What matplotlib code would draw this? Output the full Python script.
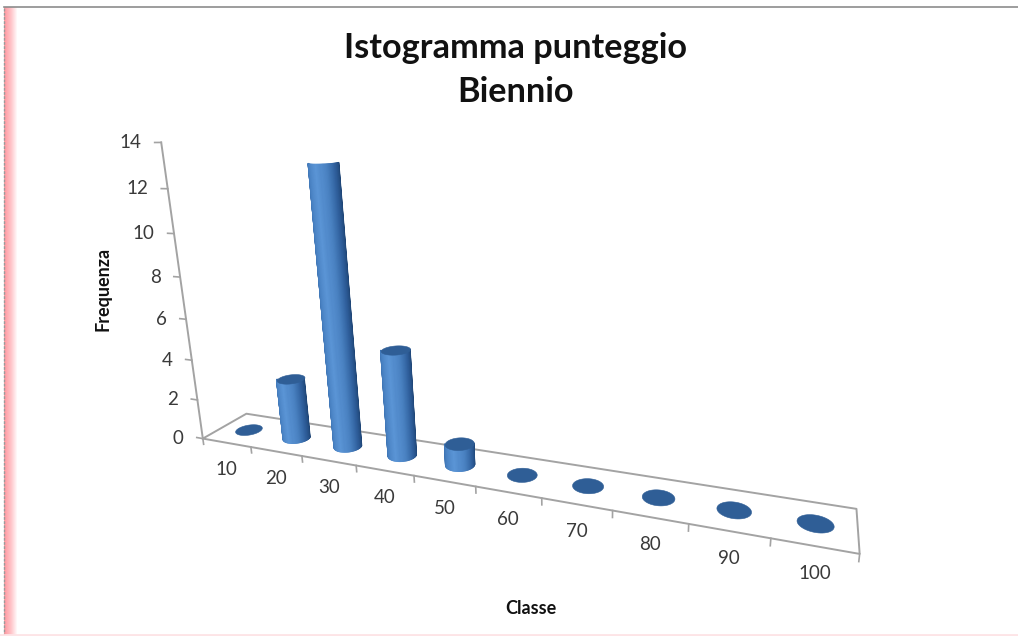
import numpy as np
import matplotlib
matplotlib.use('Agg')
import matplotlib.pyplot as plt
from matplotlib.colors import LinearSegmentedColormap
from mpl_toolkits.mplot3d import proj3d
from mpl_toolkits.mplot3d.art3d import Poly3DCollection

plt.rcParams['font.family'] = ['Lato', 'DejaVu Sans']

classes = ['10', '20', '30', '40', '50', '60', '70', '80', '90', '100']
frequency = [0, 3, 13, 5, 1, 0, 0, 0, 0, 0]
z_ticks = [0, 2, 4, 6, 8, 10, 12, 14]

W, H = 1018, 636
grey = '#a3a3a3'
text_col = '#3a3a3a'
top_col = '#2f5e96'
side_cmap = LinearSegmentedColormap.from_list('side', ['#3a6fae', '#4a83c4', '#5b95d6', '#4a82c2', '#2f5f9c', '#1e4474'])

fig = plt.figure(figsize=(W/100, H/100), dpi=100)

# pink strip down the left edge of the screenshot
strip = fig.add_axes([4/W, 0, 14/W, 1 - 7/H])
strip.imshow([np.linspace(0, 1, 14)], aspect='auto',
             cmap=LinearSegmentedColormap.from_list('pink', ['#ff9aa2', '#ffc4c8', '#ffffff']))
strip.axis('off')
fig.add_artist(plt.Line2D([4/W, 1], [1 - 7/H, 1 - 7/H], color='#8c8c8c', lw=1.2))
fig.add_artist(plt.Line2D([4/W, 4/W], [0, 1 - 7/H], color='#9a9a9a', lw=1, ls=(0, (2, 1))))
fig.add_artist(plt.Line2D([0, 1], [1.5/H, 1.5/H], color='#fde4e6', lw=2))

# camera fitted to the picture
S, cx, cy = 4142.26, 485.38, 313.29
side = 0.185*S
ax = fig.add_axes([(cx - 0.095*S)/W, (H - cy - 0.095*S)/H, side/W, side/H],
                  projection='3d', computed_zorder=False)
ax.patch.set_alpha(0)
ax.set_xlim(0, 10)
ax.set_ylim(0, 1)
ax.set_zlim(0, 14)
ax.view_init(elev=15.697, azim=-66.772, roll=1.859)
ax.set_proj_type('persp', focal_length=0.18853)
ax.set_box_aspect((2.0522, 0.2287, 1))
ax.set_axis_off()

# floor and axis lines, the right end falls just past the axes box
n = len(classes)
ax.plot([0, 0, n, n, 0], [0, 1, 1, 0, 0], [0, 0, 0, 0, 0], color=grey, lw=1.4, zorder=2, clip_on=False)
ax.plot([0, 0], [0, 0], [0, 14], color=grey, lw=1.4, zorder=2, clip_on=False)
for i in range(n + 1):
    ax.plot([i, i], [0, 0], [0, -0.3], color=grey, lw=1.2, zorder=2, clip_on=False)
for z in z_ticks:
    ax.plot([0, -0.13], [0, 0], [z, z], color=grey, lw=1.2, zorder=2, clip_on=False)

# cylinders, only the half facing the camera is drawn
rx, ry = 0.22, 0.2
front = np.radians(np.linspace(-156.8, 23.2, 40))
shade = side_cmap(np.linspace(0, 1, len(front) - 1))
ring = np.radians(np.linspace(0, 360, 60))
for i, v in enumerate(frequency):
    xc = i + 0.5
    xs = xc + rx*np.cos(front)
    ys = 0.5 + ry*np.sin(front)
    if v > 0:
        quads = [[(xs[k], ys[k], 0), (xs[k+1], ys[k+1], 0), (xs[k+1], ys[k+1], v), (xs[k], ys[k], v)]
                 for k in range(len(front) - 1)]
        ax.add_collection3d(Poly3DCollection(quads, facecolors=shade, edgecolors=shade, linewidths=1, zorder=3))
    # the tallest one has its top cut off in the original
    if v < max(frequency):
        disk = list(zip(xc + rx*np.cos(ring), 0.5 + ry*np.sin(ring), np.full(len(ring), float(v))))
        ax.add_collection3d(Poly3DCollection([disk], facecolors=top_col, edgecolors=top_col, linewidths=0.4, zorder=4))

# labels placed from the projected axis positions
M = ax.get_proj()
for i, lab in enumerate(classes):
    px, py, _ = proj3d.proj_transform(i + 0.5, 0, 0, M)
    ax.annotate(lab, (px, py), xytext=(0, -19.5), textcoords='offset points', ha='center', va='center',
                fontsize=13.5, color=text_col, annotation_clip=False)
for z in z_ticks:
    px, py, _ = proj3d.proj_transform(0, 0, z, M)
    ax.annotate(str(z), (px, py), xytext=(-14, 0), textcoords='offset points', ha='right', va='center',
                fontsize=13.5, color=text_col, annotation_clip=False)

fig.text(516/W, 1 - 48/H, 'Istogramma punteggio', ha='center', va='center', fontsize=24.7, fontweight='bold', color='#111111')
fig.text(516/W, 1 - 92/H, 'Biennio', ha='center', va='center', fontsize=24.7, fontweight='bold', color='#111111')
fig.text(103/W, 1 - 289/H, 'Frequenza', rotation=90, ha='center', va='center', fontsize=13, fontweight='bold', color='#111111')
fig.text(531/W, 1 - 609/H, 'Classe', ha='center', va='center', fontsize=13, fontweight='bold', color='#111111')

fig.savefig('out.png', dpi=100)
